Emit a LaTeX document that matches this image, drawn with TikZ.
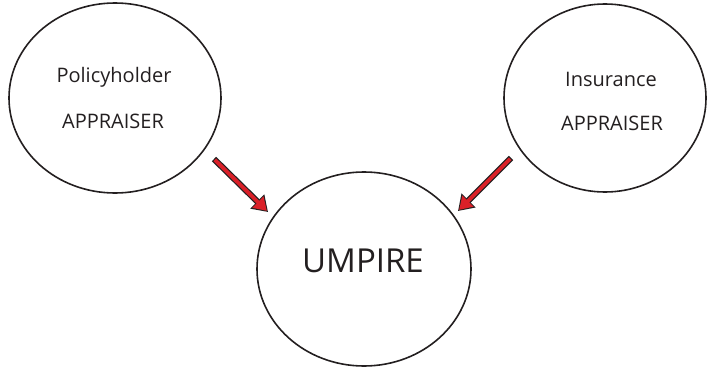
\documentclass[tikz,border=0pt]{standalone}
\usepackage{fontspec}
\setmainfont{Open Sans}
\usetikzlibrary{shapes.geometric,arrows.meta}
\definecolor{arrowred}{RGB}{218,32,40}
\definecolor{ink}{RGB}{35,31,32}
\tikzset{
  bubble/.style={draw=ink, line width=1.6pt, ellipse, inner sep=0pt},
  label/.style={text=ink, font=\fontsize{20}{24}\selectfont, anchor=base, inner sep=0pt},
  biglabel/.style={text=ink, font=\fontsize{33}{38}\selectfont, anchor=base, inner sep=0pt},
  arrowout/.style={draw=ink, line width=6.2pt, -{Triangle[length=15pt,width=19pt]}},
  arrowin/.style={draw=arrowred, line width=3.8pt, shorten >=1.6pt, shorten <=1.2pt, -{Triangle[length=12.5pt,width=15pt]}}
}
\begin{document}
\begin{tikzpicture}[x=1pt,y=1pt]
\useasboundingbox (0,0) rectangle (707,368);
\node[bubble, minimum width=212pt, minimum height=190pt] (left) at (115,270) {};
\node[bubble, minimum width=202pt, minimum height=188pt] (right) at (605,270) {};
\node[bubble, minimum width=214pt, minimum height=194pt] (umpire) at (364,99) {};
\node[label] (lt1) at (114,286) {Policyholder};
\node[label] (lt2) at (113,240) {APPRAISER};
\node[label] (rt1) at (611,282) {Insurance};
\node[label] (rt2) at (612,238) {APPRAISER};
\node[biglabel] (ut) at (363,96) {UMPIRE};
\coordinate (la) at (214,209);
\coordinate (lb) at (268,156);
\coordinate (ra) at (511,210);
\coordinate (rb) at (458,157);
\draw[arrowout] (la) -- (lb);
\draw[arrowin] (la) -- (lb);
\draw[arrowout] (ra) -- (rb);
\draw[arrowin] (ra) -- (rb);
\end{tikzpicture}
\end{document}
